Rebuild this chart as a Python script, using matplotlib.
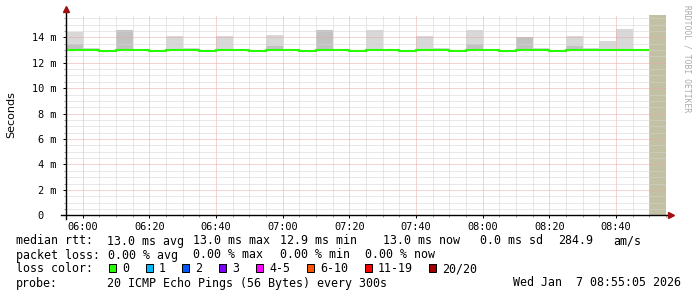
import matplotlib
matplotlib.use("Agg")
import matplotlib.pyplot as plt
import matplotlib.dates as mdates
from matplotlib.patches import Rectangle
from matplotlib.ticker import MultipleLocator, FuncFormatter
import numpy as np
import pandas as pd

# one smokeping slot every 5 minutes, 05:55 .. 08:50
slot_start = pd.date_range("2026-01-07 05:55", periods=35, freq="5min")
median_ms = [13.00, 13.00, 12.93, 13.00, 13.00, 12.93, 13.00, 13.00, 12.93,
             13.00, 13.00, 12.93, 13.00, 13.00, 12.93, 13.00, 13.00, 12.96,
             13.00, 13.00, 12.93, 13.00, 13.00, 12.96, 13.00, 13.00, 12.96,
             13.00, 13.00, 12.93, 13.00, 13.00, 13.00, 13.00, 13.00]
smoke_top = [14.40, 13.20, 12.93, 14.55, 13.12, 12.93, 14.08, 13.20, 12.93,
             14.08, 13.12, 12.93, 14.15, 13.12, 12.93, 14.55, 13.12, 12.96,
             14.55, 13.10, 12.93, 14.10, 13.18, 12.96, 14.55, 13.12, 12.96,
             14.05, 13.15, 12.93, 14.10, 13.20, 13.75, 14.62, 13.12]
smoke_dark = [13.50, 13.00, 12.93, 14.55, 13.00, 12.93, 13.00, 13.00, 12.93,
              13.00, 13.00, 12.93, 13.30, 13.00, 12.93, 14.55, 13.00, 12.96,
              13.00, 13.00, 12.93, 13.00, 13.00, 12.96, 13.50, 13.00, 12.96,
              14.05, 13.00, 12.93, 13.35, 13.00, 13.00, 13.00, 13.00]
nodata_from = pd.Timestamp("2026-01-07 08:50")
t_end = pd.Timestamp("2026-01-07 08:55")

loss_labels = ["0", "1", "2", "3", "4-5", "6-10", "11-19", "20/20"]
loss_colors = ["#26ff00", "#00b8ff", "#0059ff", "#7e00ff", "#ff00ff",
               "#ff5500", "#ff0000", "#a10000"]

W, H = 697, 297
MONO = "DejaVu Sans Mono"

def fx(px):
    return px / W

def fy(py):
    return 1 - py / H

fig = plt.figure(figsize=(W / 100, H / 100), dpi=100)
fig.patch.set_facecolor("white")
ax = fig.add_axes([fx(66), fy(215.3), 600 / W, 200.3 / H])

x = mdates.date2num(slot_start.to_pydatetime())
w = 5 / 1440
med = np.array(median_ms)
top = np.array(smoke_top)
dark = np.array(smoke_dark)

# smoke: light part above, darker core below
ax.bar(x, top - dark, bottom=dark, width=w, align="edge", color="#d8d8d8", lw=0, zorder=1)
ax.bar(x, dark - med + 0.05, bottom=med - 0.05, width=w, align="edge", color="#c2c2c2", lw=0, zorder=1)
ax.stairs(med, np.append(x, x[-1] + w), color="#26ff00", lw=1.5, zorder=3, baseline=None)

ax.axvspan(mdates.date2num(nodata_from), mdates.date2num(t_end), color="#c3c1a3", lw=0, zorder=1)

ax.set_xlim(mdates.date2num(slot_start[0]), mdates.date2num(t_end))
ax.set_ylim(0, 15.76)

ax.xaxis.set_major_locator(mdates.MinuteLocator(byminute=[0, 20, 40]))
ax.xaxis.set_minor_locator(mdates.MinuteLocator(byminute=range(0, 60, 5)))
ax.xaxis.set_major_formatter(mdates.DateFormatter("%H:%M"))
ax.yaxis.set_major_locator(MultipleLocator(2))
ax.yaxis.set_minor_locator(MultipleLocator(0.5))
ax.yaxis.set_major_formatter(FuncFormatter(lambda v, p: "0  " if v == 0 else f"{int(v)} m"))

ax.set_axisbelow(False)
ax.grid(which="minor", color="#d2d2d2", linestyle=(0, (1, 1)), lw=0.72)
ax.grid(which="major", color="#eaa8a8", linestyle=(0, (1, 1)), lw=0.72)

for s in ax.spines.values():
    s.set_visible(False)
ax.tick_params(which="major", length=2, width=0.7, color="black", labelsize=7.4, pad=3)
ax.tick_params(which="minor", length=1.5, width=0.7, color="#999999")
ax.tick_params(axis="y", pad=5)
for lab in ax.get_xticklabels() + ax.get_yticklabels():
    lab.set_family(MONO)

# axes with arrows, rrdtool style
ax.plot([-0.0083, 1.0033], [0, 0], transform=ax.transAxes, color="black", lw=1, clip_on=False, zorder=5)
ax.plot([0, 0], [-0.018, 1.025], transform=ax.transAxes, color="black", lw=1, clip_on=False, zorder=5)
ax.plot(1.009, 0, marker=">", ms=4.5, color="#a01010", transform=ax.transAxes, clip_on=False, zorder=6)
ax.plot(0, 1.03, marker="^", ms=4.5, color="#a01010", transform=ax.transAxes, clip_on=False, zorder=6)

fig.text(fx(11), fy(115), "Seconds", rotation=90, ha="center", va="center", fontsize=8)
fig.text(fx(687), fy(5), "RRDTOOL / TOBI OETIKER", rotation=270, ha="center", va="top",
         fontsize=5.8, color="#aaaaaa", family=MONO)

fs = 8.4
def txt(px, base, s, **kw):
    fig.text(fx(px), fy(base), s, family=MONO, fontsize=fs, va="baseline", **kw)

txt(16, 244.5, "median rtt:")
txt(107, 244.5, "13.0 ms avg")
txt(193, 244.5, "13.0 ms max")
txt(280, 244.5, "12.9 ms min")
txt(383, 244.5, "13.0 ms now")
txt(480, 244.5, "0.0 ms sd")
txt(558, 244.5, "284.9")
txt(613, 244.5, "am/s")

txt(16, 258.5, "packet loss:")
txt(107.5, 258.5, "0.00 % avg")
txt(193, 258.5, "0.00 % max")
txt(280, 258.5, "0.00 % min")
txt(365, 258.5, "0.00 % now")

txt(16, 272.5, "loss color:")
bx = 108.7
for lab, col in zip(loss_labels, loss_colors):
    fig.add_artist(Rectangle((fx(bx), fy(272)), 7 / W, 8 / H, transform=fig.transFigure,
                             facecolor=col, edgecolor="black", lw=0.72))
    txt(bx + 13.3, 272.5, lab)
    bx += 13.3 + 7 * len(lab) + 16.5

txt(16, 286.5, "probe:")
txt(107, 286.5, "20 ICMP Echo Pings (56 Bytes) every 300s")
txt(513, 286.5, "Wed Jan  7 08:55:05 2026")

fig.savefig("out.png", dpi=100, facecolor="white")
